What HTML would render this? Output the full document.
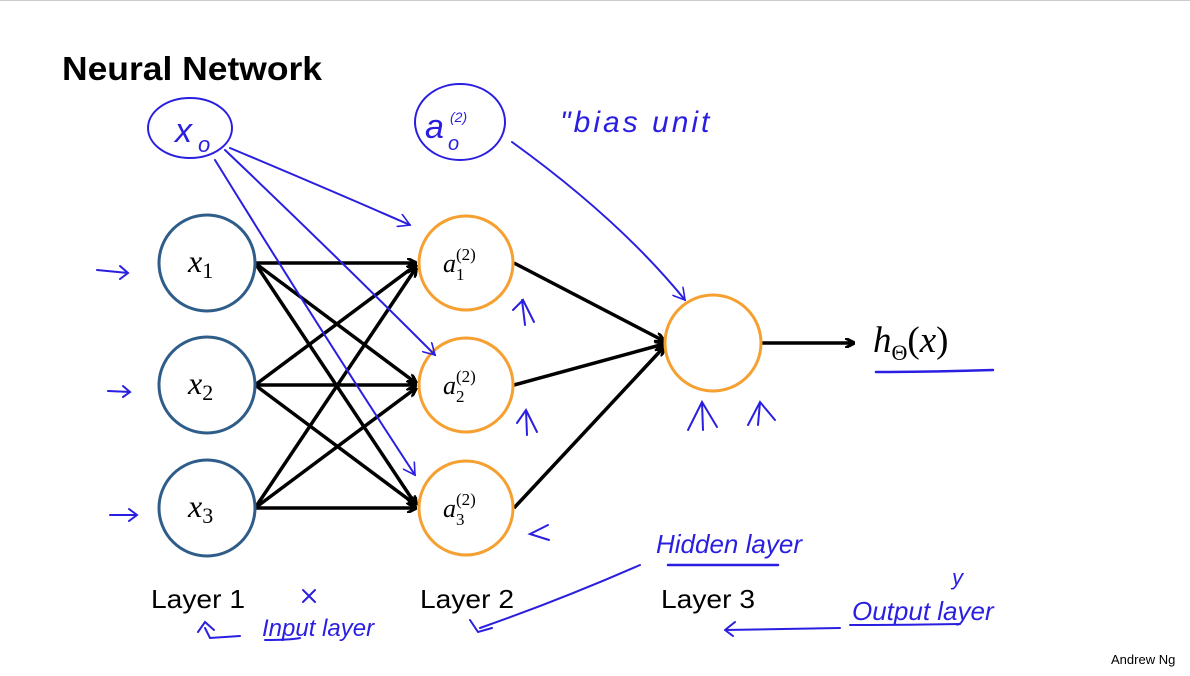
<!DOCTYPE html>
<html><head><meta charset="utf-8"><style>
html,body{margin:0;padding:0;background:#fff;}
body{width:1190px;height:671px;overflow:hidden;position:relative;font-family:"Liberation Sans",sans-serif;}
</style></head><body>
<svg width="1190" height="671" viewBox="0 0 1190 671" xmlns="http://www.w3.org/2000/svg">
<defs>
<marker id="ah" markerWidth="10" markerHeight="10" refX="9" refY="5" orient="auto" markerUnits="userSpaceOnUse"><path d="M0,0 L10,5 L0,10" fill="none" stroke="#000" stroke-width="3"/></marker>
<marker id="bh" markerWidth="14" markerHeight="14" refX="12" refY="7" orient="auto" markerUnits="userSpaceOnUse"><path d="M0,0 L12,7 L0,14" fill="none" stroke="#2a1fe0" stroke-width="1.6"/></marker>
</defs>
<line x1="0" y1="0.5" x2="1190" y2="0.5" stroke="#ccc"/>
<text x="62" y="80" font-size="33" font-weight="bold" fill="#000" textLength="260" lengthAdjust="spacingAndGlyphs">Neural Network</text>
<g stroke="#000" stroke-width="3.5" marker-end="url(#ah)" fill="none">
<line x1="255" y1="263" x2="416" y2="263"/><line x1="255" y1="263" x2="416" y2="383"/><line x1="255" y1="263" x2="416" y2="505"/>
<line x1="255" y1="385" x2="416" y2="265"/><line x1="255" y1="385" x2="416" y2="385"/><line x1="255" y1="385" x2="416" y2="505"/>
<line x1="255" y1="508" x2="416" y2="268"/><line x1="255" y1="508" x2="416" y2="388"/><line x1="255" y1="508" x2="416" y2="508"/>
<line x1="514" y1="263" x2="664" y2="341"/><line x1="514" y1="385" x2="664" y2="344"/><line x1="514" y1="508" x2="664" y2="347"/>
<line x1="762" y1="343" x2="854" y2="343"/>
</g>
<g fill="#fff" stroke="#2f5d8a" stroke-width="3">
<circle cx="207" cy="263" r="48"/><circle cx="207" cy="385" r="48"/><circle cx="207" cy="508" r="48"/>
</g>
<g fill="#fff" stroke="#f5a030" stroke-width="3">
<circle cx="466" cy="263" r="47"/><circle cx="466" cy="385" r="47"/><circle cx="466" cy="508" r="47"/><circle cx="713" cy="343" r="48"/>
</g>
<g font-family="'Liberation Serif',serif" font-style="italic" fill="#000">
<text x="188" y="272" font-size="32">x<tspan font-size="22" font-style="normal" dy="6">1</tspan></text>
<text x="188" y="394" font-size="32">x<tspan font-size="22" font-style="normal" dy="6">2</tspan></text>
<text x="188" y="517" font-size="32">x<tspan font-size="22" font-style="normal" dy="6">3</tspan></text>
<text x="443" y="272" font-size="26">a</text><text x="456" y="260" font-size="17" font-style="normal">(2)</text><text x="456" y="280" font-size="17" font-style="normal">1</text>
<text x="443" y="394" font-size="26">a</text><text x="456" y="382" font-size="17" font-style="normal">(2)</text><text x="456" y="402" font-size="17" font-style="normal">2</text>
<text x="443" y="517" font-size="26">a</text><text x="456" y="505" font-size="17" font-style="normal">(2)</text><text x="456" y="525" font-size="17" font-style="normal">3</text>
<text x="873" y="352" font-size="37">h<tspan font-size="22" font-style="normal" dy="8">Θ</tspan><tspan dy="-8" font-style="normal">(</tspan>x<tspan font-style="normal">)</tspan></text>
</g>
<g font-size="26" fill="#000">
<text x="151" y="608" textLength="94" lengthAdjust="spacingAndGlyphs">Layer 1</text><text x="420" y="608" textLength="94" lengthAdjust="spacingAndGlyphs">Layer 2</text><text x="661" y="608" textLength="94" lengthAdjust="spacingAndGlyphs">Layer 3</text>
</g>
<text x="1111" y="664" font-size="13" fill="#000">Andrew Ng</text>
<g stroke="#2a1fe0" stroke-width="2" fill="none" stroke-linecap="round">
<ellipse cx="190" cy="128" rx="42" ry="30"/>
<ellipse cx="460" cy="122" rx="45" ry="38"/>
<path d="M230 148 Q330 190 410 225" marker-end="url(#bh)"/>
<path d="M225 150 Q330 250 435 355" marker-end="url(#bh)"/>
<path d="M215 160 Q320 330 415 475" marker-end="url(#bh)"/>
<path d="M512 142 Q620 220 685 300" marker-end="url(#bh)"/>
<path d="M97 270 L128 273 M120 266 L128 273 L120 279"/>
<path d="M108 391 L130 392 M123 386 L130 392 L123 397"/>
<path d="M110 515 L137 515 M129 509 L137 515 L129 521"/>
<path d="M513 310 L523 300 L534 322 M522 300 L525 325"/>
<path d="M517 423 L526 410 L537 432 M526 410 L527 435"/>
<path d="M548 525 L530 534 L549 540"/>
<path d="M688 430 L702 402 L717 427 M702 402 L703 430"/>
<path d="M748 425 L760 402 L775 420 M760 402 L758 425"/>
<path d="M876 372 Q930 372 993 370" stroke-width="2.5"/>
<path d="M668 565 Q720 565 778 565" stroke-width="2.5"/>
<path d="M640 565 Q560 600 480 628 M470 620 L478 632 L492 628"/>
<path d="M205 628 L210 638 L240 636 M198 632 L205 622 L214 630"/>
<path d="M725 630 L735 622 M725 630 L733 636 M725 630 L840 628"/>
<path d="M850 625 Q910 625 960 624"/>
<path d="M265 640 Q290 640 300 638"/>
<path d="M303 590 L315 602 M315 590 L303 602"/>
</g>
<g fill="#2a1fe0" font-family="'Liberation Sans',sans-serif" font-style="italic">
<text x="175" y="142" font-size="34">x</text><text x="198" y="152" font-size="22">o</text>
<text x="425" y="138" font-size="34">a</text><text x="448" y="150" font-size="20">o</text><text x="450" y="122" font-size="14">(2)</text>
<text x="560" y="132" font-size="30" letter-spacing="3">"bias unit</text>
<text x="656" y="553" font-size="26">Hidden layer</text>
<text x="262" y="636" font-size="24">Input layer</text>
<text x="852" y="620" font-size="26">Output layer</text>
<text x="952" y="585" font-size="22">y</text>
</g>
</svg>
</body></html>
